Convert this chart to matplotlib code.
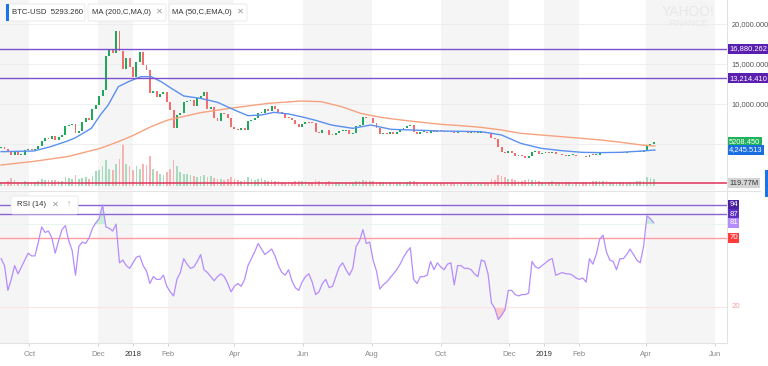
import numpy as np
import pandas as pd
import matplotlib
matplotlib.use('Agg')
import matplotlib.pyplot as plt
import matplotlib.dates as mdates
from matplotlib.patches import FancyBboxPatch, Rectangle
from matplotlib.transforms import Affine2D

plt.rcParams['font.family'] = ['Liberation Sans', 'DejaVu Sans']

# BTC-USD closes, one candle every 3 days from 2017-09-06
close = [4600, 4330, 4170, 3640, 4080, 3630, 3670, 4200, 4350, 4300,
         4370, 4770, 5430, 5700, 5590, 6010, 5530, 5900, 6130, 7210,
         7400, 7460, 6360, 6630, 7700, 8200, 8060, 9330, 9900, 10980,
         11700, 16000, 16700, 16400, 19100, 16600, 14400, 15800, 14600, 13400,
         15200, 16500, 14900, 14200, 11400, 11600, 10900, 11300, 11500, 10200,
         9200, 7000, 8600, 8900, 10200, 10400, 10500, 9700, 10700, 11000,
         11500, 9400, 9600, 8200, 7900, 8900, 8700, 8200, 7100, 6850,
         6800, 7000, 6800, 7900, 8050, 8250, 8900, 8900, 9350, 9100,
         9700, 9400, 9000, 8700, 8300, 8250, 8000, 7500, 7100, 7500,
         7700, 7650, 7600, 6550, 6400, 6750, 6700, 6150, 6130, 6400,
         6600, 6600, 6700, 6250, 6350, 7300, 7400, 8400, 8200, 8200,
         7600, 7000, 6300, 6300, 6250, 6550, 6300, 6500, 6700, 7050,
         7200, 7350, 6500, 6300, 6500, 6500, 6400, 6700, 6450, 6650,
         6600, 6550, 6600, 6550, 6350, 6500, 6450, 6450, 6400, 6400,
         6350, 6400, 6450, 6400, 6350, 5700, 5600, 4600, 4000, 3850,
         4150, 3900, 3500, 3600, 3450, 3250, 3550, 4050, 4100, 3700,
         3900, 3950, 3850, 4050, 3700, 3700, 3650, 3550, 3600, 3600,
         3450, 3500, 3450, 3400, 3650, 3600, 3650, 3950, 4000, 3850,
         3850, 3850, 3880, 3950, 3900, 3950, 4000, 4000, 4000, 4050,
         4100, 4900, 5050, 5210]
first_open = 4450

# volume (millions)
volume = [180, 150, 210, 330, 230, 170, 140, 190, 160, 150,
          150, 210, 290, 260, 240, 230, 260, 220, 200,
          380, 330, 300, 460, 300, 330, 360, 280, 400, 600,
          650, 800, 1050, 700, 650, 900, 1100, 1700, 900, 800,
          650, 800, 700, 900, 850, 1200, 700, 600, 500, 450, 550,
          700, 1050, 800, 550, 500, 500, 450, 400,
          350, 400, 450, 380, 420, 330, 300, 280, 260, 300, 350, 300, 250,
          220, 250, 350, 280, 260, 300, 320, 250, 200, 230, 220, 200, 180, 170, 160, 180, 200, 210, 190,
          200, 180, 170, 230, 200, 170, 160, 190, 170, 150,
          160, 150, 140, 170, 150, 200, 210, 260, 220, 200,
          190, 180, 170, 160, 150, 160, 150, 140, 150, 170,
          160, 220, 200, 150, 140, 130, 140, 150, 140, 130,
          130, 120, 125, 140, 130, 120, 115, 110, 110, 115, 120, 125, 130, 120, 140,
          300, 260, 450, 400, 380, 300, 270, 250, 220, 200, 250, 300, 250, 230, 200, 180,
          170, 180, 190, 170, 160, 150, 160, 150, 140, 150,
          160, 150, 170, 180, 200, 190, 220, 210, 190, 180,
          170, 175, 180, 170, 175, 170, 180, 185, 190, 200,
          380, 330, 300]

# RSI(14) at the same dates
rsi = [55, 50, 32, 40, 50, 44, 49, 54, 59, 57,
       57, 67, 78, 74, 75, 70, 59, 68, 76, 79,
       68, 61, 43, 64, 67, 66, 70, 77, 81, 84,
       94, 78, 77, 75, 80, 52, 54, 50, 48, 52,
       56, 57, 50, 46, 37, 42, 40, 40, 43, 35,
       31, 28, 40, 45, 55, 51, 48, 49, 53, 58,
       47, 45, 42, 39, 42, 44, 42, 37, 31, 35,
       37, 35, 40, 50, 55, 60, 66, 62, 58, 60,
       62, 57, 50, 45, 43, 47, 39, 34, 32, 38,
       42, 44, 38, 29, 31, 37, 40, 34, 35, 42,
       49, 52, 47, 43, 48, 64, 68, 76, 66, 67,
       54, 46, 33, 36, 38, 41, 44, 47, 51, 56,
       60, 63, 40, 37, 42, 42, 43, 53, 47, 52,
       49, 47, 51, 52, 36, 50, 50, 48, 48, 47,
       44, 42, 54, 53, 44, 23, 19, 11, 14, 18,
       32, 32, 29, 28, 29, 29, 30, 53, 49, 48,
       50, 52, 54, 55, 43, 44, 45, 44, 44, 43,
       41, 40, 41, 38, 55, 51, 58, 69, 72, 60,
       54, 53, 47, 55, 55, 58, 62, 58, 54, 52,
       64, 86, 84, 81]

ma200_dates = ['2017-09-06', '2017-10-05', '2017-11-04', '2017-12-03', '2017-12-19',
               '2018-01-02', '2018-01-17', '2018-02-01', '2018-03-02', '2018-04-01',
               '2018-05-01', '2018-05-30', '2018-06-17', '2018-07-05', '2018-07-22',
               '2018-08-09', '2018-08-27', '2018-09-14', '2018-10-01', '2018-10-19',
               '2018-11-06', '2018-11-24', '2018-12-11', '2018-12-29', '2019-01-16',
               '2019-02-03', '2019-02-20', '2019-03-10', '2019-03-28', '2019-04-09']
ma200 = [2375, 2830, 3420, 4460, 5290, 6125, 7170, 8000, 8920, 9540,
         10080, 10375, 10290, 9670, 8830, 8330, 8000, 7710, 7460, 7290,
         7080, 6750, 6330, 6125, 5920, 5710, 5500, 5210, 4875, 4750]

ema50_dates = ['2017-09-06', '2017-10-05', '2017-10-20', '2017-11-04', '2017-11-11',
               '2017-11-25', '2017-12-03', '2017-12-10', '2017-12-19', '2017-12-28',
               '2018-01-08', '2018-01-17', '2018-01-26', '2018-02-04', '2018-02-15',
               '2018-03-02', '2018-03-17', '2018-04-01', '2018-04-13', '2018-04-25',
               '2018-05-06', '2018-05-19', '2018-05-30', '2018-06-11', '2018-06-26',
               '2018-07-05', '2018-07-15', '2018-07-31', '2018-08-18', '2018-09-05',
               '2018-10-01', '2018-11-06', '2018-11-24', '2018-12-11', '2018-12-29',
               '2019-01-16', '2019-02-03', '2019-02-20', '2019-03-10', '2019-03-28',
               '2019-04-09']
ema50 = [4040, 4125, 4670, 5375, 5790, 6960, 8625, 9875, 12170, 12790,
         13420, 13420, 12790, 11960, 11000, 10700, 10210, 9250, 8540, 8625,
         8960, 8750, 8420, 8000, 7375, 7170, 6960, 7375, 6830, 6750,
         6625, 6540, 6125, 5080, 4460, 4170, 3960, 3920, 3960, 4120,
         4245]

price_lines = [16880.262, 13214.410]
last_close = 5208.450
last_ema = 4245.513
vol_line = 119.77
rsi_lines = [94, 87]
rsi_last = 81

tick_dates = ['2017-10-01', '2017-12-01', '2018-01-01', '2018-02-01', '2018-04-01',
              '2018-06-01', '2018-08-01', '2018-10-01', '2018-12-01', '2019-01-01',
              '2019-02-01', '2019-04-01', '2019-06-01']
tick_labels = ['Oct', 'Dec', '2018', 'Feb', 'Apr', 'Jun', 'Aug', 'Oct', 'Dec',
               '2019', 'Feb', 'Apr', 'Jun']

W, H = 768, 366
fig = plt.figure(figsize=(W / 100, H / 100), dpi=100)
px = Affine2D().scale(1 / W, -1 / H).translate(0, 1) + fig.transFigure


def box(l, t, r, b):
    return [l / W, 1 - b / H, (r - l) / W, (b - t) / H]


ax_bg = fig.add_axes(box(0, 0, 727, 190))
ax_p = fig.add_axes(box(0, 0, 727, 190), sharex=ax_bg)
ax_r = fig.add_axes(box(0, 192, 727, 343), sharex=ax_bg)
ax_p.patch.set_alpha(0)

dates = pd.date_range('2017-09-06', periods=len(close), freq='3D')
x = mdates.date2num(dates)
c = np.array(close, dtype=float)
o = np.concatenate([[first_open], c[:-1]])
up = c >= o
x0, x1 = mdates.date2num(pd.to_datetime(['2017-09-05', '2019-06-12']))
ticks = mdates.date2num(pd.to_datetime(tick_dates))

# alternating shaded bands between ticks
edges = [x0] + list(ticks) + [x1]
for k in range(len(edges) - 1):
    if k % 2 == 0:
        for a in (ax_bg, ax_r):
            a.axvspan(edges[k], edges[k + 1], color='#f5f5f5', lw=0, zorder=0)

# volume
vcols = np.where(up, '#a6dcbc', '#f6b3b3')
ax_bg.bar(x, volume, width=1.5, color=vcols, zorder=1)
ax_bg.axhline(vol_line, color='#e0325a', lw=1.1, zorder=3)
ax_bg.set_ylim(-160, 7440)
ax_bg.set_xlim(x0, x1)
ax_bg.axis('off')
ax_bg.text(1.003, vol_line, '119.77M', transform=ax_bg.get_yaxis_transform(),
           fontsize=5.4, color='#333333', va='center', ha='left', clip_on=False,
           bbox=dict(boxstyle='square,pad=0.2', fc='#d4d4d4', ec='none'))

# price panel
for g in [5000, 10000, 15000, 20000]:
    ax_p.axhline(g, color='#ececec', lw=0.6, zorder=0)
ccols = np.where(up, '#1fa85a', '#f26d6d')
ax_p.bar(x, np.maximum(np.abs(c - o), 110), bottom=np.minimum(o, c),
         width=1.7, color=ccols, zorder=2)
ax_p.plot(mdates.date2num(pd.to_datetime(ma200_dates)), ma200, color='#f6a27e', lw=1.0, zorder=3)
ax_p.plot(mdates.date2num(pd.to_datetime(ema50_dates)), ema50, color='#5b8ff0', lw=1.0, zorder=3)
for v in price_lines:
    ax_p.axhline(v, color='#7c4fd0', lw=1.0, zorder=4)
ax_p.set_ylim(-750, 23000)
ax_p.yaxis.tick_right()
ax_p.set_yticks([10000, 15000, 20000])
ax_p.set_yticklabels(['{:,.3f}'.format(v) for v in [10000, 15000, 20000]])
ax_p.tick_params(axis='y', length=0, pad=3, labelsize=5.4, labelcolor='#555555')
ax_p.tick_params(axis='x', bottom=False, labelbottom=False)
for s in ['top', 'left', 'bottom']:
    ax_p.spines[s].set_visible(False)
ax_p.spines['right'].set_color('#e2e2e2')

ytr = ax_p.get_yaxis_transform()
for v, fc in [(price_lines[0], '#5b1fb0'), (price_lines[1], '#5b1fb0'),
              (last_close, '#1fb35a'), (last_ema, '#1a6fe0')]:
    lab = '{:.3f}'.format(v) if v == last_close else '{:,.3f}'.format(v)
    ax_p.text(1.003, v, lab, transform=ytr, fontsize=5.4, color='white',
              va='center', ha='left', clip_on=False,
              bbox=dict(boxstyle='square,pad=0.2', fc=fc, ec='none'))

# RSI panel
r = np.array(rsi, dtype=float)
ax_r.fill_between(x, r, 80, where=r > 80, interpolate=True, color='#c9eed8', lw=0, zorder=1)
ax_r.fill_between(x, r, 20, where=r < 20, interpolate=True, color='#fbcaca', lw=0, zorder=1)
ax_r.axhline(80, color='#e6f6ec', lw=0.8, zorder=1)
ax_r.axhline(20, color='#fde4e4', lw=0.8, zorder=1)
ax_r.axhline(70, color='#ff9c9c', lw=1.0, zorder=2)
for v in rsi_lines:
    ax_r.axhline(v, color='#8a63d2', lw=1.0, zorder=2)
ax_r.plot(x, r, color='#b58cff', lw=0.9, zorder=3)
ax_r.set_ylim(-6.1, 103.3)
ax_r.set_yticks([])
ax_r.set_xticks(ticks)
ax_r.set_xticklabels(tick_labels)
ax_r.tick_params(axis='x', direction='out', length=2.5, width=0.6, color='#cccccc',
                 labelsize=5.5, labelcolor='#888888', pad=3)
for t in ax_r.get_xticklabels():
    if t.get_text() in ('2018', '2019'):
        t.set_color('#333333')
for s in ['top', 'left']:
    ax_r.spines[s].set_visible(False)
ax_r.spines['right'].set_color('#e2e2e2')
ax_r.spines['bottom'].set_color('#e2e2e2')

rtr = ax_r.get_yaxis_transform()
for v, fc in [(94, '#4a1fa0'), (87, '#5d2fc0'), (rsi_last, '#b48cff'), (70, '#ff3b3b')]:
    ax_r.text(1.003, v, str(v), transform=rtr, fontsize=5.6, color='white',
              va='center', ha='left', clip_on=False,
              bbox=dict(boxstyle='square,pad=0.2', fc=fc, ec='none'))
ax_r.text(1.006, 20, '20', transform=rtr, fontsize=5.6, color='#f4a0a0',
          va='center', ha='left', clip_on=False)

# separator and right-edge tab
fig.add_artist(plt.Line2D([0, 760], [191, 191], transform=px, color='#e4e4e4', lw=0.8))
fig.add_artist(Rectangle((765, 170), 4, 27, transform=px, color='#1a73e8', lw=0))

# watermark
fig.text(688, 12, 'YAHOO!', transform=px, fontsize=10, color='#e8e8e8',
         ha='center', va='center')
fig.text(688, 24, 'FINANCE', transform=px, fontsize=6.5, color='#e8e8e8',
         ha='center', va='center')


def chip(l, t, w, h, text, tx, extra=()):
    fig.add_artist(FancyBboxPatch((l, t), w, h, boxstyle='round,pad=0,rounding_size=2',
                                  transform=px, fc='white', ec='#e6e6e6', lw=0.6))
    fig.text(tx, t + h / 2, text, transform=px, fontsize=5.6, color='#333333',
             ha='left', va='center')
    for ex, s in extra:
        fig.text(ex, t + h / 2, s, transform=px, fontsize=6, color='#999999',
                 ha='left', va='center')


chip(6, 4, 79, 17, 'BTC-USD  5293.260', 12)
fig.add_artist(Rectangle((6, 4), 2.5, 17, transform=px, color='#1a73e8', lw=0))
chip(88, 4, 78, 17, 'MA (200,C,MA,0)', 92, [(156, '\u2715')])
chip(169, 4, 78, 17, 'MA (50,C,EMA,0)', 172, [(237, '\u2715')])
chip(11, 196, 67, 18, 'RSI (14)', 17, [(52, '\u2715'), (67, '\u2191')])

fig.savefig('out.png', dpi=100)
